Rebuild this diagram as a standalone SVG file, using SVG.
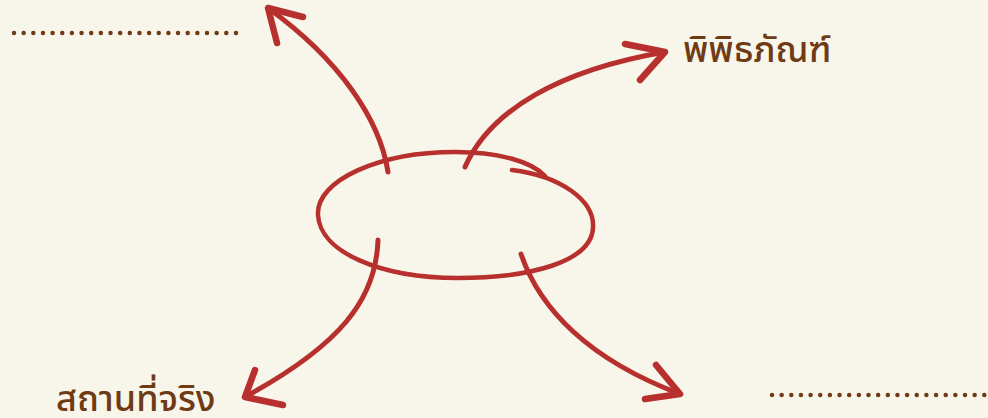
<svg xmlns="http://www.w3.org/2000/svg" width="988" height="418" viewBox="0 0 988 418">
  <style>
    .bg { fill: #f8f5ea; }
    .ink { fill: none; stroke: #b8302e; stroke-linecap: round; stroke-linejoin: round; }
    .shaft { stroke-width: 5; }
    .head { stroke-width: 6.5; }
    .ring { stroke-width: 4.5; }
    .dots { stroke: #6e3b14; stroke-width: 4.5; stroke-linecap: round; stroke-dasharray: 0 9.65; fill: none; }
    .label { fill: #6e3b14; font-family: "Noto Sans Thai", "Noto Sans", "Liberation Sans", sans-serif; font-size: 36px; font-weight: 500; }
  </style>
  <rect class="bg" x="0" y="0" width="988" height="418"/>

  <g id="center">
    <path class="ink ring" d="M512,170 C560,176 595,200 593,228 C591,262 530,278 458,278 C380,278 320,252 318,215 C316,180 380,152 455,152 C500,152 532,162 545,176"/>
  </g>

  <g id="connectors">
    <g id="arrow-topleft">
      <path class="ink shaft" d="M388,172 C380,120 340,60 268,8"/>
      <path class="ink head" d="M303,17 L268,8 L277,43"/>
    </g>
    <g id="arrow-topright">
      <path class="ink shaft" d="M465,167 C490,110 560,70 665,52"/>
      <path class="ink head" d="M625,44 L665,52 L640,80"/>
    </g>
    <g id="arrow-bottomleft">
      <path class="ink shaft" d="M378,240 C376,300 340,345 245,397"/>
      <path class="ink head" d="M255,370 L245,397 L283,405"/>
    </g>
    <g id="arrow-bottomright">
      <path class="ink shaft" d="M521,254 C540,310 590,360 680,394"/>
      <path class="ink head" d="M656,365 L680,394 L645,399"/>
    </g>
  </g>

  <g id="node-topleft">
    <line class="dots" x1="14" y1="33" x2="237" y2="33"/>
  </g>
  <g id="node-topright">
    <text class="label" x="683" y="62">พิพิธภัณฑ์</text>
  </g>
  <g id="node-bottomleft">
    <text class="label" x="56" y="411">สถานที่จริง</text>
  </g>
  <g id="node-bottomright">
    <line class="dots" x1="772" y1="395" x2="992" y2="395"/>
  </g>
</svg>
